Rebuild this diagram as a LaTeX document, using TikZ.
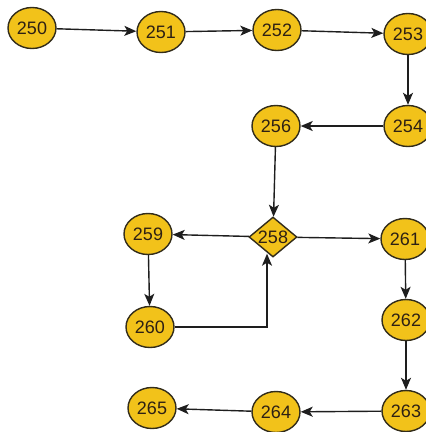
\documentclass[tikz,border=0pt]{standalone}
\usepackage{fontspec}
\setmainfont{Liberation Sans}
\usetikzlibrary{shapes.geometric,arrows.meta}
\definecolor{nodefill}{RGB}{242,194,26}
\definecolor{nodeline}{RGB}{50,44,26}
\definecolor{nodetext}{RGB}{45,32,20}
\definecolor{edgecol}{RGB}{30,30,30}
\tikzset{
  blk/.style={ellipse, draw=nodeline, line width=1.4pt, fill=nodefill,
    minimum width=48pt, minimum height=41pt, inner sep=0pt,
    text=nodetext, font=\fontsize{18}{18}\selectfont},
  dec/.style={diamond, draw=nodeline, line width=1.4pt, fill=nodefill,
    aspect=1.2, minimum width=48pt, minimum height=40pt, inner sep=0pt,
    text=nodetext, font=\fontsize{18}{18}\selectfont},
  arr/.style={draw=edgecol, line width=1.4pt,
    -{Stealth[length=12pt,width=10pt,inset=3pt]}}
}
\begin{document}
\begin{tikzpicture}[x=1pt,y=-1pt]
\useasboundingbox (0,0) rectangle (426,432);
\clip (0,0) rectangle (426,432);
% control-flow blocks
\node[blk] (n250) at (32,28) {250};
\node[blk] (n251) at (161,32) {251};
\node[blk] (n252) at (277,30) {252};
\node[blk] (n253) at (408,34) {253};
\node[blk] (n254) at (408,126) {254};
\node[blk] (n256) at (276,126) {256};
\node[dec] (n258) at (273,237) {258};
\node[blk] (n259) at (148,234) {259};
\node[blk] (n260) at (150,327) {260};
\node[blk] (n261) at (405,239) {261};
\node[blk] (n262) at (406,320) {262};
\node[blk] (n263) at (406,411) {263};
\node[blk] (n264) at (276,412) {264};
\node[blk] (n265) at (152,408) {265};
% transitions
\draw[arr] (n250) -- (n251);
\draw[arr] (n251) -- (n252);
\draw[arr] (n252) -- (n253);
\draw[arr] (n253) -- (n254);
\draw[arr] (n254) -- (n256);
\draw[arr] (n256) -- (n258);
\draw[arr] (n258) -- (n259);
\draw[arr] (n258) -- (n261);
\draw[arr] (n259) -- (n260);
\draw[arr] (n260.east) -| ([xshift=-6pt,yshift=4pt]n258.south);
\draw[arr] (n261) -- (n262);
\draw[arr] (n262) -- (n263);
\draw[arr] (n263) -- (n264);
\draw[arr] (n264) -- (n265);
\end{tikzpicture}
\end{document}
